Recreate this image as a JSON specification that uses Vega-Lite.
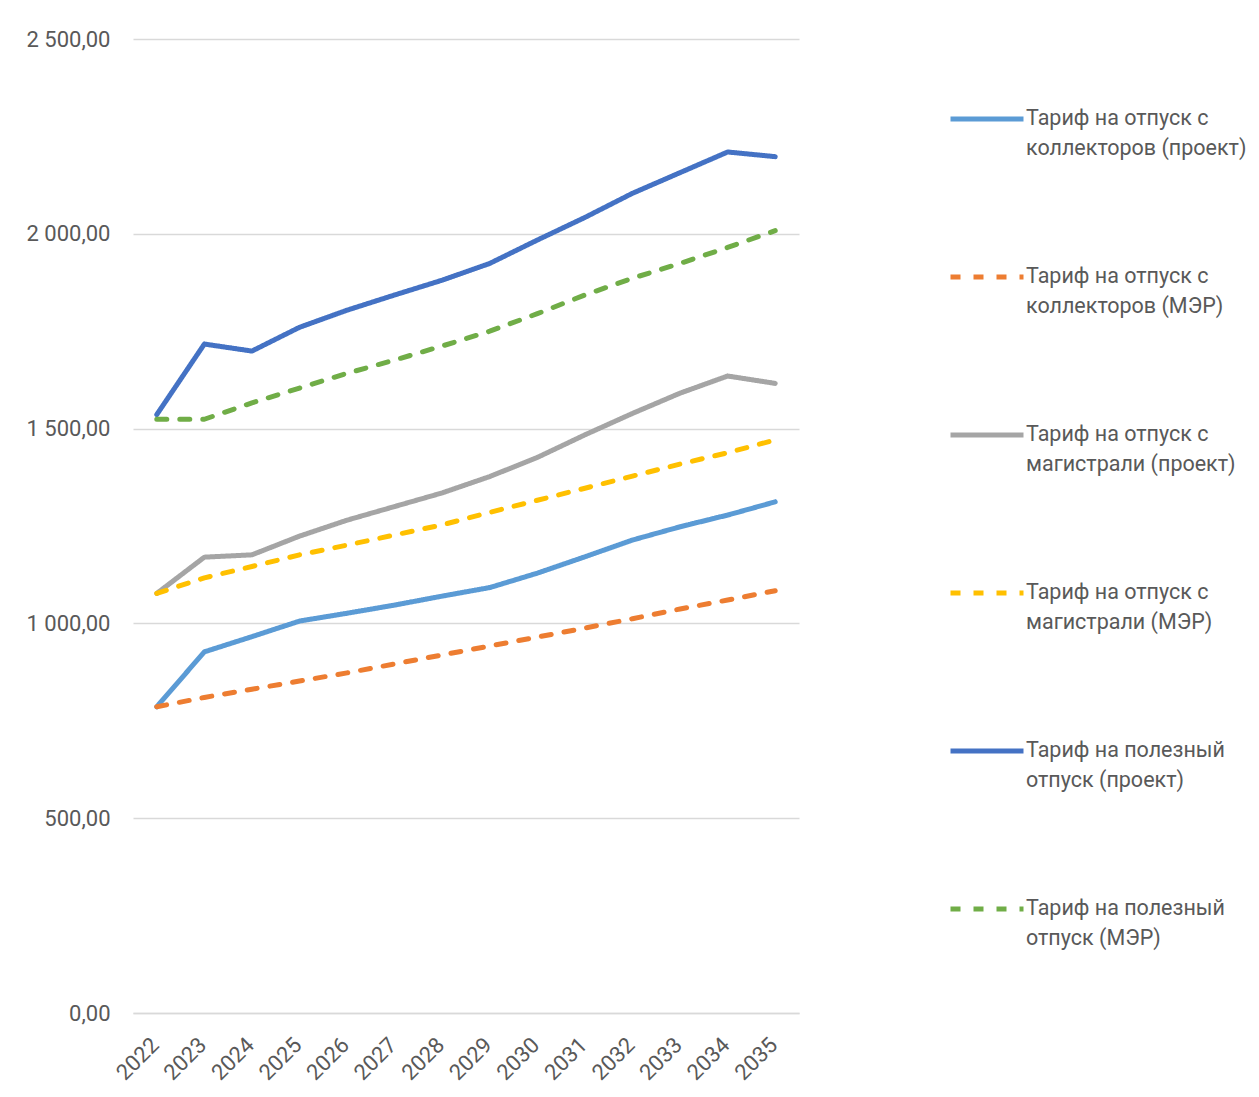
{
  "$schema": "https://vega.github.io/schema/vega-lite/v6.json",
  "width": 666,
  "height": 974,
  "autosize": {"type": "none"},
  "padding": {"left": 133, "top": 39, "right": 460, "bottom": 84},
  "background": "white",
  "data": {
    "values": [
      {"year": "2022", "series": "Тариф на отпуск с\nколлекторов (проект)", "value": 786},
      {"year": "2023", "series": "Тариф на отпуск с\nколлекторов (проект)", "value": 927},
      {"year": "2024", "series": "Тариф на отпуск с\nколлекторов (проект)", "value": 966},
      {"year": "2025", "series": "Тариф на отпуск с\nколлекторов (проект)", "value": 1006},
      {"year": "2026", "series": "Тариф на отпуск с\nколлекторов (проект)", "value": 1026},
      {"year": "2027", "series": "Тариф на отпуск с\nколлекторов (проект)", "value": 1047},
      {"year": "2028", "series": "Тариф на отпуск с\nколлекторов (проект)", "value": 1070},
      {"year": "2029", "series": "Тариф на отпуск с\nколлекторов (проект)", "value": 1092},
      {"year": "2030", "series": "Тариф на отпуск с\nколлекторов (проект)", "value": 1129},
      {"year": "2031", "series": "Тариф на отпуск с\nколлекторов (проект)", "value": 1171},
      {"year": "2032", "series": "Тариф на отпуск с\nколлекторов (проект)", "value": 1214},
      {"year": "2033", "series": "Тариф на отпуск с\nколлекторов (проект)", "value": 1248},
      {"year": "2034", "series": "Тариф на отпуск с\nколлекторов (проект)", "value": 1278},
      {"year": "2035", "series": "Тариф на отпуск с\nколлекторов (проект)", "value": 1312},

      {"year": "2022", "series": "Тариф на отпуск с\nколлекторов (МЭР)", "value": 786},
      {"year": "2023", "series": "Тариф на отпуск с\nколлекторов (МЭР)", "value": 810},
      {"year": "2024", "series": "Тариф на отпуск с\nколлекторов (МЭР)", "value": 831},
      {"year": "2025", "series": "Тариф на отпуск с\nколлекторов (МЭР)", "value": 852},
      {"year": "2026", "series": "Тариф на отпуск с\nколлекторов (МЭР)", "value": 873},
      {"year": "2027", "series": "Тариф на отпуск с\nколлекторов (МЭР)", "value": 896},
      {"year": "2028", "series": "Тариф на отпуск с\nколлекторов (МЭР)", "value": 919},
      {"year": "2029", "series": "Тариф на отпуск с\nколлекторов (МЭР)", "value": 942},
      {"year": "2030", "series": "Тариф на отпуск с\nколлекторов (МЭР)", "value": 965},
      {"year": "2031", "series": "Тариф на отпуск с\nколлекторов (МЭР)", "value": 988},
      {"year": "2032", "series": "Тариф на отпуск с\nколлекторов (МЭР)", "value": 1012},
      {"year": "2033", "series": "Тариф на отпуск с\nколлекторов (МЭР)", "value": 1037},
      {"year": "2034", "series": "Тариф на отпуск с\nколлекторов (МЭР)", "value": 1060},
      {"year": "2035", "series": "Тариф на отпуск с\nколлекторов (МЭР)", "value": 1084},

      {"year": "2022", "series": "Тариф на отпуск с\nмагистрали (проект)", "value": 1077},
      {"year": "2023", "series": "Тариф на отпуск с\nмагистрали (проект)", "value": 1170},
      {"year": "2024", "series": "Тариф на отпуск с\nмагистрали (проект)", "value": 1176},
      {"year": "2025", "series": "Тариф на отпуск с\nмагистрали (проект)", "value": 1224},
      {"year": "2026", "series": "Тариф на отпуск с\nмагистрали (проект)", "value": 1265},
      {"year": "2027", "series": "Тариф на отпуск с\nмагистрали (проект)", "value": 1300},
      {"year": "2028", "series": "Тариф на отпуск с\nмагистрали (проект)", "value": 1335},
      {"year": "2029", "series": "Тариф на отпуск с\nмагистрали (проект)", "value": 1377},
      {"year": "2030", "series": "Тариф на отпуск с\nмагистрали (проект)", "value": 1426},
      {"year": "2031", "series": "Тариф на отпуск с\nмагистрали (проект)", "value": 1484},
      {"year": "2032", "series": "Тариф на отпуск с\nмагистрали (проект)", "value": 1539},
      {"year": "2033", "series": "Тариф на отпуск с\nмагистрали (проект)", "value": 1591},
      {"year": "2034", "series": "Тариф на отпуск с\nмагистрали (проект)", "value": 1635},
      {"year": "2035", "series": "Тариф на отпуск с\nмагистрали (проект)", "value": 1616},

      {"year": "2022", "series": "Тариф на отпуск с\nмагистрали (МЭР)", "value": 1077},
      {"year": "2023", "series": "Тариф на отпуск с\nмагистрали (МЭР)", "value": 1117},
      {"year": "2024", "series": "Тариф на отпуск с\nмагистрали (МЭР)", "value": 1146},
      {"year": "2025", "series": "Тариф на отпуск с\nмагистрали (МЭР)", "value": 1176},
      {"year": "2026", "series": "Тариф на отпуск с\nмагистрали (МЭР)", "value": 1201},
      {"year": "2027", "series": "Тариф на отпуск с\nмагистрали (МЭР)", "value": 1227},
      {"year": "2028", "series": "Тариф на отпуск с\nмагистрали (МЭР)", "value": 1253},
      {"year": "2029", "series": "Тариф на отпуск с\nмагистрали (МЭР)", "value": 1285},
      {"year": "2030", "series": "Тариф на отпуск с\nмагистрали (МЭР)", "value": 1316},
      {"year": "2031", "series": "Тариф на отпуск с\nмагистрали (МЭР)", "value": 1347},
      {"year": "2032", "series": "Тариф на отпуск с\nмагистрали (МЭР)", "value": 1378},
      {"year": "2033", "series": "Тариф на отпуск с\nмагистрали (МЭР)", "value": 1409},
      {"year": "2034", "series": "Тариф на отпуск с\nмагистрали (МЭР)", "value": 1438},
      {"year": "2035", "series": "Тариф на отпуск с\nмагистрали (МЭР)", "value": 1471},

      {"year": "2022", "series": "Тариф на полезный\nотпуск (проект)", "value": 1536},
      {"year": "2023", "series": "Тариф на полезный\nотпуск (проект)", "value": 1717},
      {"year": "2024", "series": "Тариф на полезный\nотпуск (проект)", "value": 1699},
      {"year": "2025", "series": "Тариф на полезный\nотпуск (проект)", "value": 1760},
      {"year": "2026", "series": "Тариф на полезный\nотпуск (проект)", "value": 1804},
      {"year": "2027", "series": "Тариф на полезный\nотпуск (проект)", "value": 1843},
      {"year": "2028", "series": "Тариф на полезный\nотпуск (проект)", "value": 1881},
      {"year": "2029", "series": "Тариф на полезный\nотпуск (проект)", "value": 1924},
      {"year": "2030", "series": "Тариф на полезный\nотпуск (проект)", "value": 1984},
      {"year": "2031", "series": "Тариф на полезный\nотпуск (проект)", "value": 2042},
      {"year": "2032", "series": "Тариф на полезный\nотпуск (проект)", "value": 2104},
      {"year": "2033", "series": "Тариф на полезный\nотпуск (проект)", "value": 2157},
      {"year": "2034", "series": "Тариф на полезный\nотпуск (проект)", "value": 2210},
      {"year": "2035", "series": "Тариф на полезный\nотпуск (проект)", "value": 2198},

      {"year": "2022", "series": "Тариф на полезный\nотпуск (МЭР)", "value": 1524},
      {"year": "2023", "series": "Тариф на полезный\nотпуск (МЭР)", "value": 1524},
      {"year": "2024", "series": "Тариф на полезный\nотпуск (МЭР)", "value": 1566},
      {"year": "2025", "series": "Тариф на полезный\nотпуск (МЭР)", "value": 1604},
      {"year": "2026", "series": "Тариф на полезный\nотпуск (МЭР)", "value": 1642},
      {"year": "2027", "series": "Тариф на полезный\nотпуск (МЭР)", "value": 1676},
      {"year": "2028", "series": "Тариф на полезный\nотпуск (МЭР)", "value": 1712},
      {"year": "2029", "series": "Тариф на полезный\nотпуск (МЭР)", "value": 1750},
      {"year": "2030", "series": "Тариф на полезный\nотпуск (МЭР)", "value": 1795},
      {"year": "2031", "series": "Тариф на полезный\nотпуск (МЭР)", "value": 1843},
      {"year": "2032", "series": "Тариф на полезный\nотпуск (МЭР)", "value": 1886},
      {"year": "2033", "series": "Тариф на полезный\nотпуск (МЭР)", "value": 1924},
      {"year": "2034", "series": "Тариф на полезный\nотпуск (МЭР)", "value": 1965},
      {"year": "2035", "series": "Тариф на полезный\nотпуск (МЭР)", "value": 2008}
    ]
  },
  "mark": {"type": "line", "strokeWidth": 5, "strokeCap": "round", "strokeJoin": "round"},
  "encoding": {
    "x": {
      "field": "year",
      "type": "ordinal",
      "scale": {"type": "point", "padding": 0.5},
      "axis": {
        "title": null,
        "domain": true,
        "domainColor": "#D9D9D9",
        "domainWidth": 1.3,
        "ticks": false,
        "grid": false,
        "labelAngle": -45,
        "labelAlign": "right",
        "labelBaseline": "middle",
        "labelPadding": 28,
        "labelOffset": -2,
        "labelFont": "Roboto",
        "labelFontSize": 22,
        "labelColor": "#595959"
      }
    },
    "y": {
      "field": "value",
      "type": "quantitative",
      "scale": {"domain": [0, 2500], "nice": false},
      "axis": {
        "title": null,
        "values": [0, 500, 1000, 1500, 2000, 2500],
        "labelExpr": "replace(replace(format(datum.value, ',.2f'), ',', ' '), '.', ',')",
        "domain": false,
        "ticks": false,
        "grid": true,
        "gridColor": "#D9D9D9",
        "gridWidth": 1.3,
        "labelPadding": 23,
        "labelFont": "Roboto",
        "labelFontSize": 22,
        "labelColor": "#595959"
      }
    },
    "color": {
      "field": "series",
      "type": "nominal",
      "scale": {
        "domain": [
          "Тариф на отпуск с\nколлекторов (проект)",
          "Тариф на отпуск с\nколлекторов (МЭР)",
          "Тариф на отпуск с\nмагистрали (проект)",
          "Тариф на отпуск с\nмагистрали (МЭР)",
          "Тариф на полезный\nотпуск (проект)",
          "Тариф на полезный\nотпуск (МЭР)"
        ],
        "range": ["#5B9BD5", "#ED7D31", "#A5A5A5", "#FFC000", "#4472C4", "#70AD47"]
      },
      "legend": {"title": null, "labelExpr": "split(datum.value, '\\n')"}
    },
    "strokeDash": {
      "field": "series",
      "type": "nominal",
      "scale": {
        "domain": [
          "Тариф на отпуск с\nколлекторов (проект)",
          "Тариф на отпуск с\nколлекторов (МЭР)",
          "Тариф на отпуск с\nмагистрали (проект)",
          "Тариф на отпуск с\nмагистрали (МЭР)",
          "Тариф на полезный\nотпуск (проект)",
          "Тариф на полезный\nотпуск (МЭР)"
        ],
        "range": [[1, 0], [10, 13], [1, 0], [10, 13], [1, 0], [10, 13]]
      },
      "legend": {"title": null, "labelExpr": "split(datum.value, '\\n')"}
    }
  },
  "config": {
    "view": {"stroke": null},
    "style": {"guide-label": {"lineHeight": 30}},
    "legend": {
      "orient": "none",
      "legendX": 815,
      "legendY": 41,
      "symbolType": "stroke",
      "symbolSize": 5329,
      "symbolStrokeWidth": 5,
      "labelFont": "Roboto",
      "labelFontSize": 21.5,
      "labelColor": "#595959",
      "labelLimit": 400,
      "labelOffset": 0,
      "labelBaseline": "middle",
      "rowPadding": 78,
      "padding": 0
    }
  }
}
